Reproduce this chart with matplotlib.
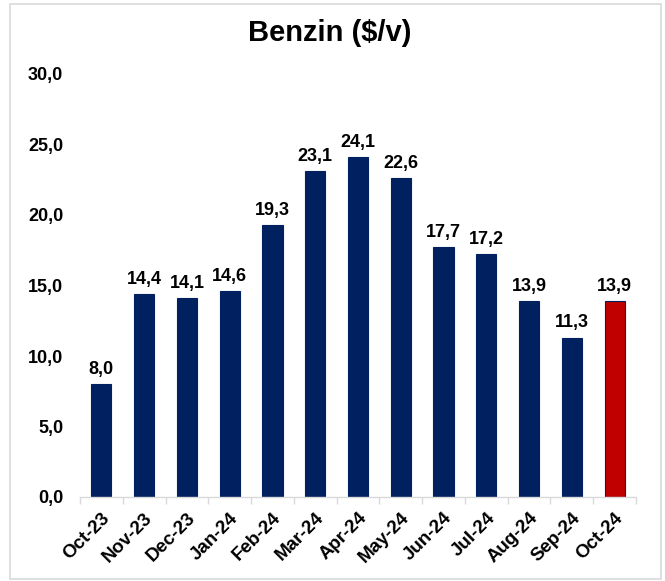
import matplotlib
matplotlib.use("Agg")
import matplotlib.pyplot as plt
from matplotlib.patches import Rectangle

months = ["Oct-23", "Nov-23", "Dec-23", "Jan-24", "Feb-24", "Mar-24", "Apr-24",
          "May-24", "Jun-24", "Jul-24", "Aug-24", "Sep-24", "Oct-24"]
values = [8.0, 14.4, 14.1, 14.6, 19.3, 23.1, 24.1, 22.6, 17.7, 17.2, 13.9, 11.3, 13.9]
yticks = [0, 5, 10, 15, 20, 25, 30]

navy = "#002060"
red = "#C00000"

plt.rcParams['font.family'] = ['Liberation Sans', 'DejaVu Sans']
fig = plt.figure(figsize=(6.65, 5.81), dpi=100)
ax = fig.add_axes([80/665, 1 - 497/581, (635.6 - 79.6)/665, (497 - 74)/581])

colors = [navy] * (len(values) - 1) + [red]
x = list(range(len(values)))
bars = ax.bar(x, values, width=0.47, color=colors, edgecolor=navy, linewidth=0.8)

for xi, v in zip(x, values):
    ax.text(xi, v + 0.45, f"{v:.1f}".replace(".", ","), ha="center", va="bottom",
            fontsize=13, fontweight="bold")

ax.set_xlim(-0.5, len(values) - 0.5)
ax.set_ylim(0, 30)
ax.set_yticks(yticks)
ax.set_yticklabels([f"{t:.1f}".replace(".", ",") for t in yticks], fontsize=13, fontweight="bold")
ax.set_xticks(x)
ax.set_xticklabels(months, rotation=45, ha="right", rotation_mode="anchor", fontsize=13.5, fontweight="bold")
ax.tick_params(axis="x", length=0, pad=9)
ax.tick_params(axis="y", length=0, pad=12)
# category separator ticks
ax.set_xticks([i - 0.5 for i in range(len(values) + 1)], minor=True)
ax.tick_params(axis="x", which="minor", length=5, color="#D9D9D9", width=1)

for s in ["top", "right", "left"]:
    ax.spines[s].set_visible(False)
ax.spines["bottom"].set_color("#D9D9D9")
ax.spines["bottom"].set_linewidth(1)

fig.text(330/665, 1 - 33/581, "Benzin ($/v)", ha="center", va="center", fontsize=21, fontweight="bold")

fig.patches.append(Rectangle((10/665, 2/581), 651/665, 575/581, transform=fig.transFigure,
                             fill=False, edgecolor="#D9D9D9", linewidth=1.2))

fig.savefig("out.png", dpi=100)
